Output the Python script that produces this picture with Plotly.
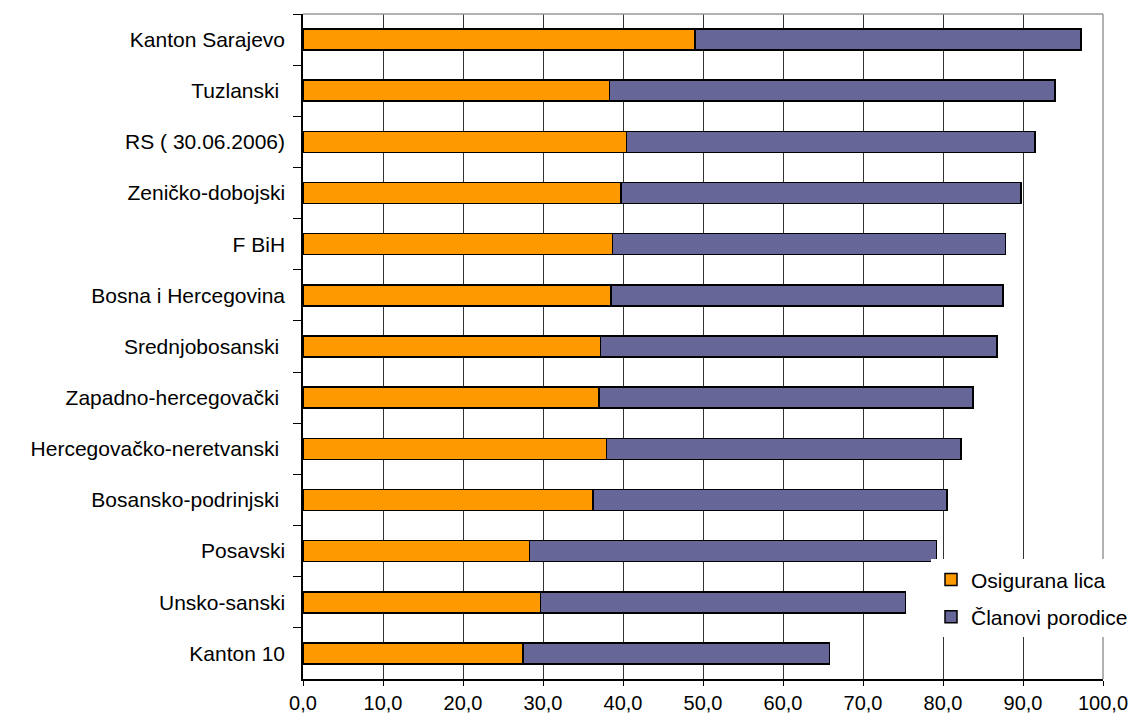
import plotly.graph_objects as go

# Regions, listed top to bottom as shown on the chart
regions = [
    "Kanton Sarajevo",
    "Tuzlanski\u00a0",
    "RS ( 30.06.2006)",
    "Zeničko-dobojski",
    "F BiH",
    "Bosna i Hercegovina",
    "Srednjobosanski\u00a0",
    "Zapadno-hercegovački\u00a0",
    "Hercegovačko-neretvanski\u00a0",
    "Bosansko-podrinjski\u00a0",
    "Posavski",
    "Unsko-sanski",
    "Kanton 10",
]

# Insured persons (%)
osigurana_lica = [49.0, 38.3, 40.45, 39.75, 38.7, 38.5, 37.2, 37.0, 37.95, 36.25, 28.3, 29.7, 27.5]
# Family members (%)
clanovi_porodice = [48.25, 55.7, 51.05, 50.0, 49.1, 49.0, 49.55, 46.75, 44.3, 44.25, 50.9, 45.6, 38.3]

x_ticks = [0, 10, 20, 30, 40, 50, 60, 70, 80, 90, 100]

FONT = "Liberation Sans, Arial, sans-serif"
bar_line = dict(color="#000000", width=1.5)

fig = go.Figure()
fig.add_trace(go.Bar(
    y=regions, x=osigurana_lica, orientation="h",
    name="Osigurana lica", legendgroup="a",
    marker=dict(color="#FF9900", line=bar_line),
))
fig.add_trace(go.Bar(
    y=regions, x=clanovi_porodice, orientation="h",
    name="Članovi porodice", legendgroup="b",
    marker=dict(color="#666699", line=bar_line),
))

fig.update_layout(
    width=1133, height=720,
    margin=dict(l=303, r=30, t=14, b=41, autoexpand=False),
    barmode="stack",
    bargap=0.59,
    separators=",.",
    paper_bgcolor="white",
    plot_bgcolor="white",
    font=dict(family=FONT, size=21, color="#000000"),
    showlegend=True,
    legend=dict(
        x=0.785, y=0.18, xanchor="left", yanchor="top",
        bgcolor="white", borderwidth=0,
        tracegroupgap=7, traceorder="grouped",
        font=dict(family=FONT, size=21, color="#000000"),
    ),
    xaxis=dict(
        range=[0, 100], tickvals=x_ticks, tickformat=".1f",
        tickfont=dict(family=FONT, size=20, color="#000000"),
        showgrid=True, gridcolor="#333333", gridwidth=1,
        showline=True, linecolor="#000000", linewidth=1.5,
        ticks="outside", ticklen=5, tickcolor="#000000",
        ticklabelstandoff=0,
        zeroline=False, fixedrange=True, automargin=False,
    ),
    yaxis=dict(
        autorange="reversed",
        showgrid=False,
        showline=True, linecolor="#000000", linewidth=1.5,
        ticks="outside", ticklen=8, tickcolor="#000000",
        tickson="boundaries",
        ticklabelstandoff=12,
        fixedrange=True, automargin=False,
    ),
)

# Grey frame on the top and right of the plotting area
fig.add_shape(type="line", xref="paper", yref="paper", x0=0, x1=1, y0=1, y1=1,
              line=dict(color="#999999", width=1.5))
fig.add_shape(type="line", xref="paper", yref="paper", x0=1, x1=1, y0=0, y1=1,
              line=dict(color="#999999", width=1.5))

fig.write_html("out.html")
